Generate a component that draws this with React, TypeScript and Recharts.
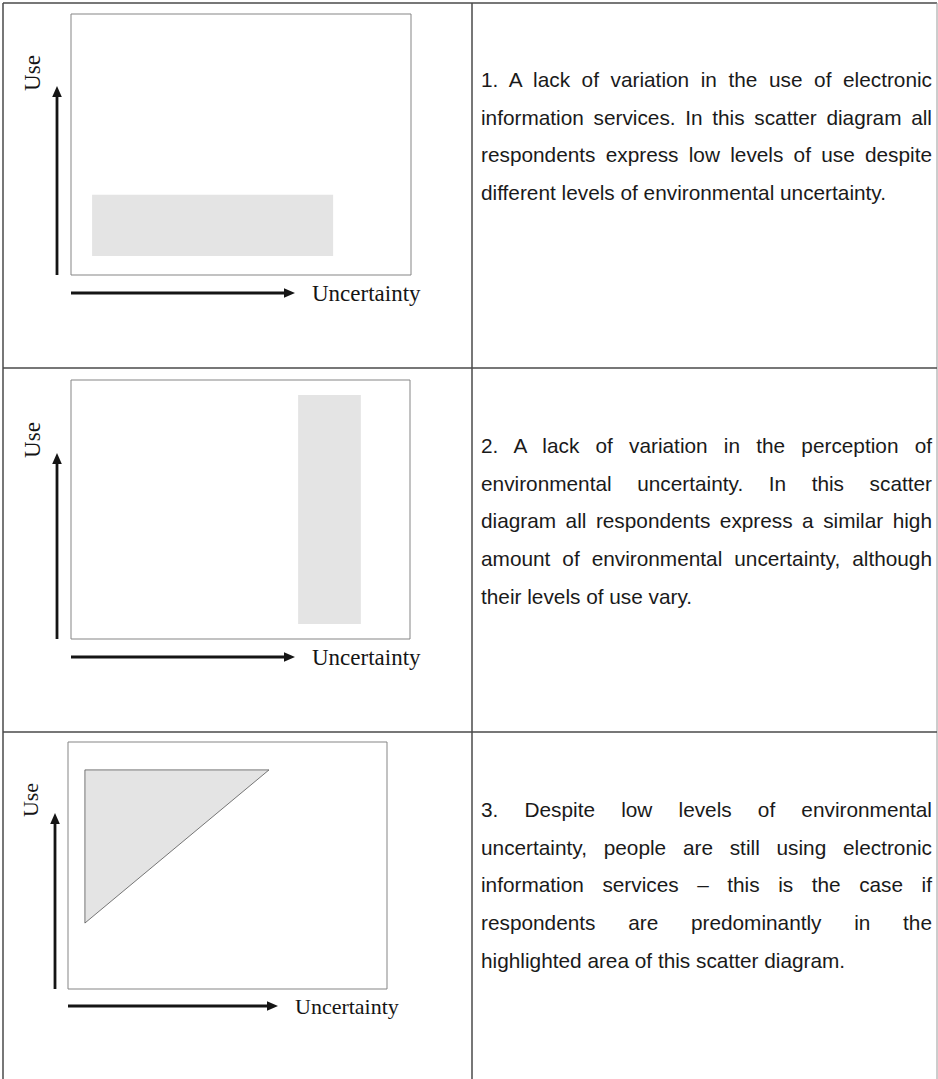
import React from 'react';
import { ComposedChart, XAxis, YAxis, ReferenceArea } from 'recharts';

// both axes run 0..100 (low -> high), no ticks shown
const uncertaintyDomain = [0, 100];
const useDomain = [0, 100];

// panel 1: low use, any uncertainty
const lowUseBandX = [6.2, 77.1];
const lowUseBandY = [7.3, 30.7];

// panel 2: high uncertainty, any use
const highUncertaintyBandX = [67.0, 85.5];
const highUncertaintyBandY = [5.8, 94.2];

// panel 3: triangle, right angle at top-left
const triangleX = [5.3, 63.0];
const triangleY = [26.7, 88.7];

const xLabel = 'Uncertainty';
const yLabel = 'Use';

const captions = [
  [
    '1. A lack of variation in the use of electronic',
    'information services. In this scatter diagram all',
    'respondents express low levels of use despite',
    'different levels of environmental uncertainty.'
  ],
  [
    '2. A lack of variation in the perception of',
    'environmental uncertainty. In this scatter',
    'diagram all respondents express a similar high',
    'amount of environmental uncertainty, although',
    'their levels of use vary.'
  ],
  [
    '3. Despite low levels of environmental',
    'uncertainty, people are still using electronic',
    'information services \u2013 this is the case if',
    'respondents are predominantly in the',
    'highlighted area of this scatter diagram.'
  ]
];

const SHADE = '#e4e4e4';
const BOX = '#858585';
const INK = '#151515';
const RULE = '#4a4a4a';

type Layout = {
  box: { left: number; top: number; width: number; height: number };
  vArrowX: number;
  vArrowTip: number;
  hArrowY: number;
  hArrowEnd: number;
  xLabelX: number;
  yLabelY: number;
  labelSize: number;
  textTop: number;
};

const layouts: Layout[] = [
  { box: { left: 71, top: 14, width: 340, height: 261 }, vArrowX: 57, vArrowTip: 86, hArrowY: 293, hArrowEnd: 295, xLabelX: 312, yLabelY: 73, labelSize: 23, textTop: 61 },
  { box: { left: 71, top: 380, width: 339, height: 259 }, vArrowX: 57, vArrowTip: 453, hArrowY: 657, hArrowEnd: 295, xLabelX: 312, yLabelY: 440, labelSize: 23, textTop: 427 },
  { box: { left: 68, top: 742, width: 319, height: 247 }, vArrowX: 55, vArrowTip: 813, hArrowY: 1006, hArrowEnd: 278, xLabelX: 295, yLabelY: 800, labelSize: 22, textTop: 791 }
];

const TriangleShape = (props: any) => {
  const { x, y, width, height } = props;
  const pts = `${x},${y} ${x + width},${y} ${x},${y + height}`;
  return <polygon points={pts} fill={SHADE} stroke="#555" strokeWidth={0.8} />;
};

const Diagram = ({ index, layout }: { index: number; layout: Layout }) => {
  const { box } = layout;
  const m = 1;
  return (
    <div style={{ position: 'absolute', left: box.left - m, top: box.top - m }}>
      <ComposedChart
        width={box.width + 2 * m}
        height={box.height + 2 * m}
        margin={{ top: m, right: m, bottom: m, left: m }}
      >
        <XAxis type="number" dataKey="x" domain={uncertaintyDomain} hide allowDataOverflow />
        <YAxis type="number" dataKey="y" domain={useDomain} hide allowDataOverflow />
        <ReferenceArea
          x1={uncertaintyDomain[0]}
          x2={uncertaintyDomain[1]}
          y1={useDomain[0]}
          y2={useDomain[1]}
          fill="#fff"
          fillOpacity={1}
          stroke={BOX}
          strokeWidth={1}
        />
        {index === 0 && (
          <ReferenceArea x1={lowUseBandX[0]} x2={lowUseBandX[1]} y1={lowUseBandY[0]} y2={lowUseBandY[1]} fill={SHADE} fillOpacity={1} />
        )}
        {index === 1 && (
          <ReferenceArea
            x1={highUncertaintyBandX[0]}
            x2={highUncertaintyBandX[1]}
            y1={highUncertaintyBandY[0]}
            y2={highUncertaintyBandY[1]}
            fill={SHADE}
            fillOpacity={1}
          />
        )}
        {index === 2 && (
          <ReferenceArea x1={triangleX[0]} x2={triangleX[1]} y1={triangleY[0]} y2={triangleY[1]} shape={TriangleShape} />
        )}
      </ComposedChart>
    </div>
  );
};

const Arrows = ({ layout }: { layout: Layout }) => {
  const { box, vArrowX, vArrowTip, hArrowY, hArrowEnd, xLabelX, yLabelY, labelSize } = layout;
  const bottom = box.top + box.height;
  return (
    <g>
      <line x1={vArrowX} y1={bottom} x2={vArrowX} y2={vArrowTip + 8} stroke={INK} strokeWidth={2.8} />
      <polygon points={`${vArrowX},${vArrowTip} ${vArrowX - 4.8},${vArrowTip + 11} ${vArrowX + 4.8},${vArrowTip + 11}`} fill={INK} />
      <line x1={box.left} y1={hArrowY} x2={hArrowEnd - 8} y2={hArrowY} stroke={INK} strokeWidth={2.8} />
      <polygon points={`${hArrowEnd},${hArrowY} ${hArrowEnd - 11},${hArrowY - 4.8} ${hArrowEnd - 11},${hArrowY + 4.8}`} fill={INK} />
      <text
        x={xLabelX}
        y={hArrowY}
        dominantBaseline="central"
        fontFamily="'Liberation Serif', serif"
        fontSize={labelSize}
        fill={INK}
      >
        {xLabel}
      </text>
      <text
        x={vArrowX - 25}
        y={yLabelY}
        textAnchor="middle"
        dominantBaseline="central"
        transform={`rotate(-90 ${vArrowX - 25} ${yLabelY})`}
        fontFamily="'Liberation Serif', serif"
        fontSize={labelSize}
        fill={INK}
      >
        {yLabel}
      </text>
    </g>
  );
};

const Caption = ({ lines, top }: { lines: string[]; top: number }) => (
  <div
    style={{
      position: 'absolute',
      left: 481,
      top,
      width: 451,
      fontFamily: "'Liberation Sans', Arial, sans-serif",
      fontSize: 20.8,
      lineHeight: '37.7px',
      color: '#1a1a1a'
    }}
  >
    {lines.map((line, i) => (
      <div
        key={i}
        style={{
          textAlign: 'justify',
          textAlignLast: i === lines.length - 1 ? 'left' : 'justify',
          whiteSpace: 'nowrap'
        }}
      >
        {line}
      </div>
    ))}
  </div>
);

export default function App() {
  return (
    <div style={{ position: 'absolute', left: 0, top: 0, width: 938, height: 1079, background: '#fff', overflow: 'hidden' }}>
      <svg width={938} height={1079} style={{ position: 'absolute', left: 0, top: 0 }}>
        <line x1={3} y1={3} x2={937} y2={3} stroke={RULE} strokeWidth={1.5} />
        <line x1={3} y1={3} x2={3} y2={1079} stroke={RULE} strokeWidth={1.5} />
        <line x1={937} y1={3} x2={937} y2={1079} stroke="#9a9a9a" strokeWidth={1} />
        <line x1={472} y1={3} x2={472} y2={1079} stroke={RULE} strokeWidth={1.5} />
        <line x1={3} y1={368} x2={937} y2={368} stroke={RULE} strokeWidth={1.5} />
        <line x1={3} y1={732} x2={937} y2={732} stroke={RULE} strokeWidth={1.5} />
      </svg>
      {layouts.map((layout, i) => (
        <Diagram key={i} index={i} layout={layout} />
      ))}
      <svg width={938} height={1079} style={{ position: 'absolute', left: 0, top: 0, pointerEvents: 'none' }}>
        {layouts.map((layout, i) => (
          <Arrows key={i} layout={layout} />
        ))}
      </svg>
      {captions.map((lines, i) => (
        <Caption key={i} lines={lines} top={layouts[i].textTop} />
      ))}
    </div>
  );
}
